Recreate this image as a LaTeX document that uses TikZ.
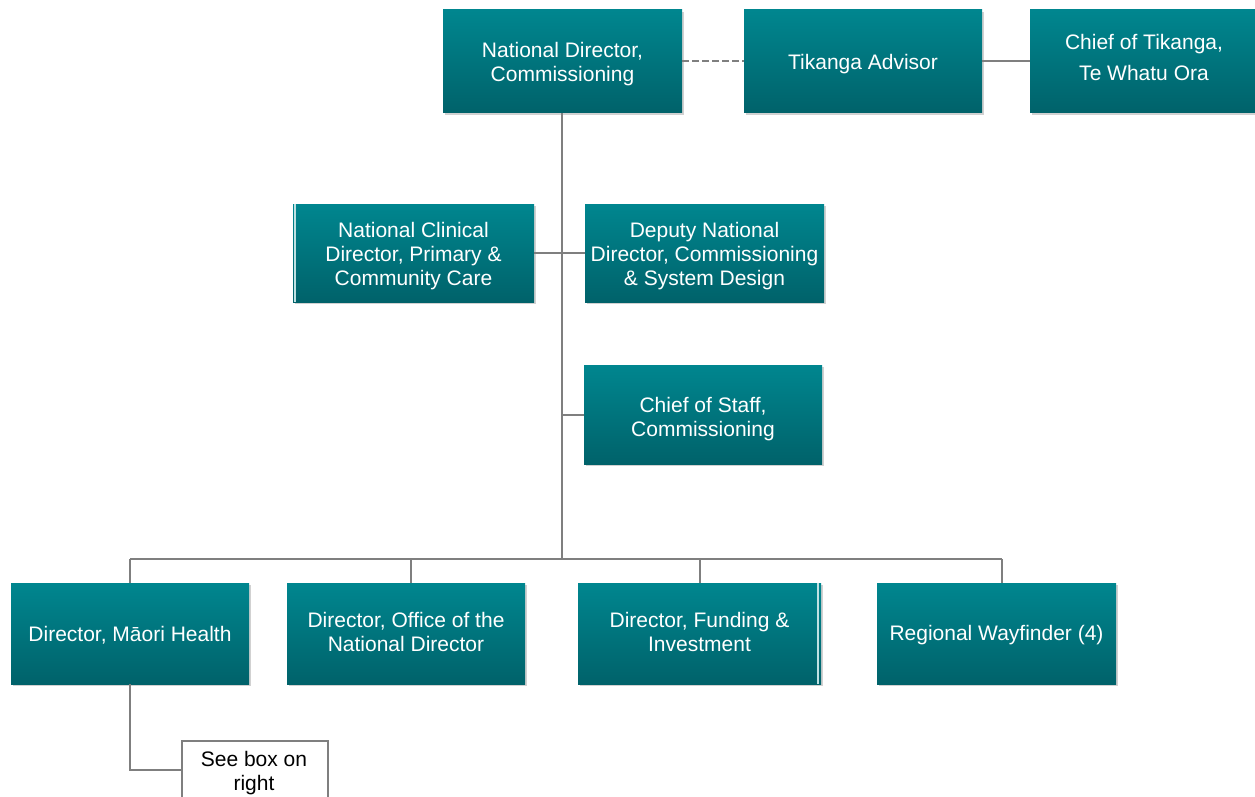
\documentclass[tikz,border=0pt]{standalone}
\usepackage{fontspec}
\setmainfont{Liberation Sans}
\usetikzlibrary{shadows}
\definecolor{tealtop}{HTML}{00868F}
\definecolor{tealbot}{HTML}{00626A}
\definecolor{linegray}{HTML}{7F7F7F}
\tikzset{
  orgbox/.style={rectangle, top color=tealtop, bottom color=tealbot, draw=none,
    inner sep=0pt,
    drop shadow={shadow xshift=1.5pt, shadow yshift=-2pt, opacity=0.3, fill=black!60}},
  boxtext/.style={text=white, align=center, inner sep=0pt, yshift=-3pt,
    font=\fontsize{21}{24}\selectfont},
  conn/.style={draw=linegray, line width=2pt},
  dconn/.style={draw=linegray, line width=2pt, dash pattern=on 7pt off 3pt},
  notebox/.style={rectangle, draw=linegray, line width=2pt, fill=white,
    inner sep=0pt}
}
\begin{document}
\begin{tikzpicture}[x=1pt,y=-1pt]
\useasboundingbox (0,0) rectangle (1255,797);
\begin{scope}
\clip (0,0) rectangle (1255,797);
% top row
\node[orgbox, minimum width=239pt, minimum height=103pt] (nd) at (562.5,61.5) {};
\node[boxtext] (ndT) at (nd.center) {National Director,\\Commissioning};
\node[orgbox, minimum width=238pt, minimum height=103pt] (ta) at (863,61.5) {};
\node[boxtext] (taT) at (ta.center) {Tikanga Advisor};
\node[orgbox, minimum width=228pt, minimum height=103pt] (ct) at (1144,61.5) {};
\node[boxtext, yshift=7pt, font=\fontsize{21}{31}\selectfont] (ctT) at (ct.center) {Chief of Tikanga,\\Te Whatu Ora};
% second row
\node[orgbox, minimum width=241pt, minimum height=98pt] (ncd) at (413.5,253) {};
\node[boxtext] (ncdT) at (ncd.center) {National Clinical\\Director, Primary \&\\Community Care};
\node[orgbox, minimum width=239pt, minimum height=98pt] (dnd) at (704.5,253) {};
\node[boxtext] (dndT) at (dnd.center) {Deputy National\\Director, Commissioning\\\& System Design};
\node[orgbox, minimum width=238pt, minimum height=99pt] (cos) at (703,414.5) {};
\node[boxtext, yshift=-2pt] (cosT) at (cos.center) {Chief of Staff,\\Commissioning};
% bottom row
\node[orgbox, minimum width=238pt, minimum height=101pt] (mh) at (130,633.5) {};
\node[boxtext, yshift=1pt] (mhT) at (mh.center) {Director, Māori Health};
\node[orgbox, minimum width=238pt, minimum height=101pt] (ond) at (406,633.5) {};
\node[boxtext, yshift=5pt] (ondT) at (ond.center) {Director, Office of the\\National Director};
\node[orgbox, minimum width=243pt, minimum height=101pt] (fi) at (699.5,633.5) {};
\node[boxtext, yshift=5pt] (fiT) at (fi.center) {Director, Funding \&\\Investment};
\node[orgbox, minimum width=239pt, minimum height=101pt] (rw) at (996.5,633.5) {};
\node[boxtext, yshift=1pt] (rwT) at (rw.center) {Regional Wayfinder (4)};
% note
\node[notebox, minimum width=146pt, minimum height=80pt, anchor=north west] (see) at (181,740) {};
\node[text=black, align=center, font=\fontsize{21}{24}\selectfont, anchor=north, inner sep=0pt] (seetxt) at (254,751) {See box on\\right};
% highlight artefacts
\draw[white!75!tealtop, line width=2pt] ([xshift=2pt]ncd.north west) -- ([xshift=2pt]ncd.south west);
\draw[white!75!tealtop, line width=2pt] ([xshift=-3pt]fi.north east) -- ([xshift=-3pt]fi.south east);
% connectors
\coordinate (trunkbot) at (562,559);
\draw[dconn] (nd.east) -- (ta.west);
\draw[conn] (ta.east) -- (ct.west);
\draw[conn] (nd.south -| trunkbot) -- (trunkbot);
\draw[conn] (ncd.east) -- (dnd.west);
\draw[conn] (562,414.5) -- (cos.west);
\draw[conn] (130,559) -- (1002,559);
\draw[conn] (130,559) -- (mh.north);
\draw[conn] (411,559) -- (411,583);
\draw[conn] (700,559) -- (700,583);
\draw[conn] (1002,559) -- (1002,583);
\draw[conn] (mh.south) |- (see.west |- 0,770);
\end{scope}
\end{tikzpicture}
\end{document}
